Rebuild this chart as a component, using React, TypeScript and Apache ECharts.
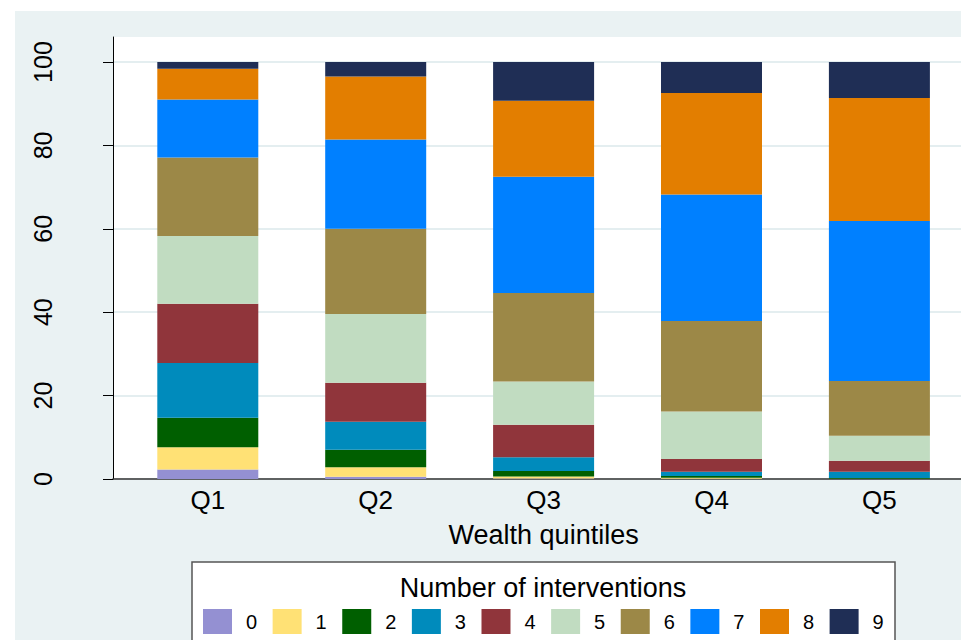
import React, { useEffect, useRef } from "react";
import * as echarts from "echarts";

const categories = ["Q1", "Q2", "Q3", "Q4", "Q5"];
const seriesNames = ["0", "1", "2", "3", "4", "5", "6", "7", "8", "9"];
const yTicks = [0, 20, 40, 60, 80, 100];

const n0 = [2.3, 0.55, 0.1, 0.05, 0];
const n1 = [5.3, 2.25, 0.5, 0.25, 0.05];
const n2 = [7.1, 4.2, 1.3, 0.4, 0.2];
const n3 = [13.1, 6.7, 3.3, 1.05, 1.5];
const n4 = [14.2, 9.4, 7.8, 3.05, 2.65];
const n5 = [16.3, 16.5, 10.4, 11.4, 6.0];
const n6 = [18.8, 20.4, 21.2, 21.7, 13.1];
const n7 = [13.9, 21.4, 27.9, 30.3, 38.4];
const n8 = [7.4, 15.1, 18.2, 24.4, 29.5];
const n9 = [1.6, 3.5, 9.3, 7.4, 8.6];
const seriesValues = [n0, n1, n2, n3, n4, n5, n6, n7, n8, n9];

const colors = [
  "#9490d2",
  "#ffe175",
  "#005f00",
  "#008bbc",
  "#90353b",
  "#c1dcc1",
  "#9c8847",
  "#0080ff",
  "#e37e00",
  "#1f2e55",
];

const FONT = "'Liberation Sans', Arial, Helvetica, sans-serif";

export default function App() {
  const ref = useRef<HTMLDivElement>(null);
  useEffect(() => {
    if (!ref.current) return;
    const chart = echarts.init(ref.current, undefined, { renderer: "svg" });
    const option: any = {
      animation: false,
      backgroundColor: "#eaf2f3",
      textStyle: { fontFamily: FONT },
      grid: [
        {
          left: 98,
          top: 26,
          right: 0,
          bottom: 164,
          show: true,
          backgroundColor: "#ffffff",
          borderWidth: 0,
        },
        {
          left: 108.85,
          width: 839.5,
          top: 26,
          bottom: 164,
          show: false,
        },
      ],
      xAxis: [
        {
          gridIndex: 0,
          type: "value",
          min: 0,
          max: 1,
          axisLine: { show: true, lineStyle: { color: "#333", width: 1.5 } },
          axisTick: { show: false },
          axisLabel: { show: false },
          splitLine: { show: false },
        },
        {
          gridIndex: 1,
          type: "category",
          data: categories,
          name: "Wealth quintiles",
          nameLocation: "middle",
          nameGap: 42,
          nameTextStyle: {
            fontSize: 27,
            color: "#000",
            fontFamily: FONT,
            verticalAlign: "top",
          },
          axisLine: { show: false },
          axisTick: { show: false },
          splitLine: { show: false },
          axisLabel: {
            fontSize: 26,
            color: "#000",
            fontFamily: FONT,
            margin: 8,
          },
        },
      ],
      yAxis: [
        {
          gridIndex: 0,
          type: "value",
          min: 0,
          max: 106,
          interval: 20,
          axisLine: { show: true, lineStyle: { color: "#000", width: 1 } },
          axisTick: {
            show: true,
            length: 10,
            customValues: yTicks,
            lineStyle: { color: "#000", width: 1 },
          },
          splitLine: { show: true, lineStyle: { color: "#e4eef0", width: 2 } },
          axisLabel: {
            customValues: yTicks,
            formatter: (v: number) => (v % 20 === 0 ? String(v) : ""),
            rotate: 90,
            fontSize: 25,
            color: "#000",
            fontFamily: FONT,
            margin: 58,
          },
        },
        {
          gridIndex: 1,
          type: "value",
          min: 0,
          max: 106,
          show: false,
        },
      ],
      legend: {
        data: seriesNames,
        left: 188,
        top: 598,
        padding: 0,
        itemWidth: 29,
        itemHeight: 25,
        itemGap: 15.5,
        icon: "rect",
        z: 10,
        formatter: "{t|{name}}",
        textStyle: {
          fontSize: 20,
          color: "#000",
          fontFamily: FONT,
          rich: {
            t: { padding: [0, 0, 0, 9], fontSize: 20, color: "#000", fontFamily: FONT },
          },
        },
      },
      graphic: [
        {
          type: "rect",
          z: 1,
          shape: { x: 177, y: 551, width: 703, height: 100 },
          style: { fill: "#ffffff", stroke: "#555555", lineWidth: 1.5 },
        },
        {
          type: "text",
          z: 2,
          x: 528,
          y: 577,
          style: {
            text: "Number of interventions",
            fontSize: 27,
            fontFamily: FONT,
            fill: "#000",
            align: "center",
            verticalAlign: "middle",
          },
        },
      ],
      series: seriesNames.map((name, i) => ({
        name,
        type: "bar",
        stack: "total",
        xAxisIndex: 1,
        yAxisIndex: 1,
        barWidth: 101,
        itemStyle: { color: colors[i], borderWidth: 0 },
        emphasis: { disabled: true },
        data: seriesValues[i],
      })),
    };
    chart.setOption(option);
    return () => chart.dispose();
  }, []);
  return (
    <div
      ref={ref}
      style={{ position: "relative", left: 7, top: 3, width: 954, height: 632 }}
    />
  );
}
